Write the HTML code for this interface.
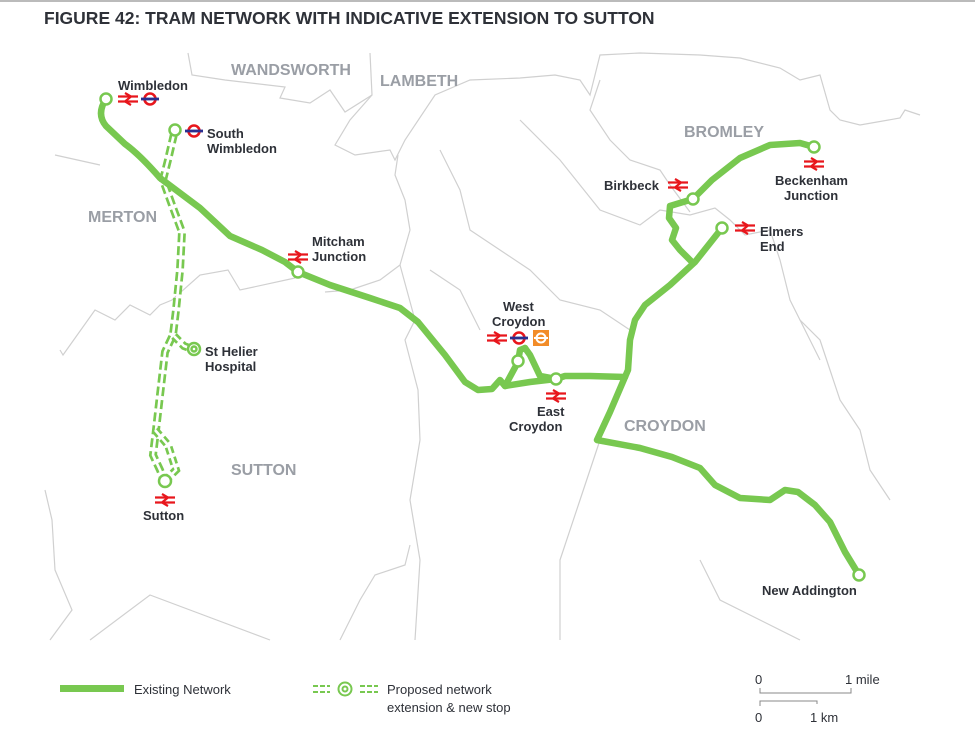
<!DOCTYPE html>
<html><head><meta charset="utf-8"><style>
html,body{margin:0;padding:0;background:#fff;}
svg{display:block;}
text{font-family:"Liberation Sans",sans-serif;}
.l{font-size:13px;font-weight:bold;fill:#2e3138;}
.b{font-size:16px;font-weight:bold;fill:#9a9ea5;}
.g{font-size:13px;fill:#2e3138;}
</style></head><body>
<svg width="975" height="734" viewBox="0 0 975 734" xmlns="http://www.w3.org/2000/svg">
<defs>
<g id="nr"><rect x="-10" y="-5" width="20" height="10" fill="none"/>
<path d="M-10,-2.5H10M-10,2.5H10M-3,-6L3,-2.5L-3,2.5L3,6" stroke="#e8161c" stroke-width="2.2" fill="none"/></g>
<g id="lu"><circle r="5.5" fill="none" stroke="#e8161c" stroke-width="2.6"/><rect x="-9" y="-1.4" width="18" height="2.8" fill="#2b2f8f"/></g>
<g id="lo"><rect x="-8" y="-8" width="16" height="16" fill="#f28c28"/><circle r="4.5" fill="none" stroke="#fff" stroke-width="2"/><rect x="-7" y="-1" width="14" height="2" fill="#fff"/></g>
</defs>
<line x1="0" y1="1" x2="975" y2="1" stroke="#bbb" stroke-width="2"/>
<text x="44" y="24" font-size="17.5" font-weight="bold" fill="#2e3138">FIGURE 42: TRAM NETWORK WITH INDICATIVE EXTENSION TO SUTTON</text>

<g fill="none" stroke="#d0d0d0" stroke-width="1.2">
<path d="M188,53 L192,75 L225,80 L285,87 L280,98 L310,103 L330,90 L345,112 L372,95 L370,53"/>
<path d="M372,95 L350,120 L335,145 L355,155 L390,150 L395,160 L405,140 L435,95 L470,80 L520,78 L555,75 L580,80 L590,95 L600,55 L640,53 L700,55 L740,58 L780,68 L800,80 L820,75 L830,110 L840,120 L860,125 L900,118 L905,110 L920,115"/>
<path d="M398,155 L395,175 L405,200 L410,230 L400,265 L380,280 L350,290 L325,292"/>
<path d="M55,155 L100,165 M60,350 L63,355 L95,310 L115,320 L130,305 L150,315 L160,305 L172,300 L200,275 L228,270 L240,290 L295,278"/>
<path d="M400,265 L415,320 L405,340 L418,390 L420,440 L410,500 L420,560 L415,640"/>
<path d="M45,490 L52,520 L55,570 L72,610 L50,640"/>
<path d="M90,640 L150,595 L270,640"/>
<path d="M340,640 L360,600 L375,575 L405,565 L410,545"/>
<path d="M520,120 L560,160 L600,210 L640,225 L660,210 L690,215 L715,208 L730,220 L745,235 L770,230 L780,260 L790,300 L800,320 L820,340 L830,370 L840,400 L860,430 L870,470 L890,500"/>
<path d="M600,80 L590,110 L610,140 L630,160 L660,170 L670,185 L690,212"/>
<path d="M440,150 L460,190 L470,230 L500,250 L530,270 L560,300 L600,310 L630,330"/>
<path d="M430,270 L460,290 L480,330"/>
<path d="M800,320 L820,360 M600,440 L580,500 L560,560 L560,640 M700,560 L720,600 L760,620 L800,640"/>
</g>

<text class="b" x="231" y="75">WANDSWORTH</text>
<text class="b" x="380" y="86">LAMBETH</text>
<text class="b" x="88" y="222">MERTON</text>
<text class="b" x="684" y="137">BROMLEY</text>
<text class="b" x="624" y="431">CROYDON</text>
<text class="b" x="231" y="475">SUTTON</text>

<g fill="none" stroke-linecap="butt">
<path d="M174,134 L168,160 L163,180 L172,205 L182,232 L180,270 L176,310 L173,335 L165,352 L160,395 L156,430 L153,455 L160,470 L164,480" stroke="#78c850" stroke-width="8" stroke-dasharray="9,4"/>
<path d="M174,134 L168,160 L163,180 L172,205 L182,232 L180,270 L176,310 L173,335 L165,352 L160,395 L156,430 L153,455 L160,470 L164,480" stroke="#fff" stroke-width="2.6"/>
<path d="M174,336 L184,346 L192,349 M155,430 L168,445 L176,470 L168,478" stroke="#78c850" stroke-width="8" stroke-dasharray="7,4"/>
<path d="M174,336 L184,346 L192,349 M155,430 L168,445 L176,470 L168,478" stroke="#fff" stroke-width="2.6"/>
</g>

<g fill="none" stroke="#78c850" stroke-width="6.5" stroke-linecap="round" stroke-linejoin="round">
<path d="M106,99 Q96,114 106,126 L125,144 Q140,155 160,178 L200,208 L230,236 L262,250 L285,262 L298,272 L330,285 L370,298 L400,308 L418,322 L445,355 L465,382 L478,390 L492,389 L500,380 L505,386 L518,362"/>
<path d="M505,386 L530,382 L556,379 L565,376 L590,376 L625,377"/>
<path d="M525,348 L530,355 L540,376 L556,379"/>
<path d="M518,362 L520,350 L525,348"/>
<path d="M722,228 L695,262 L670,285 L645,305 L635,320 L630,340 L628,370 L625,377 L610,412 L597,440 L640,448 L672,457 L700,468 L715,485 L740,498 L770,500 L785,490 L798,492 L815,505 L830,522 L845,552 L859,575"/>
<path d="M693,263 L680,250 L672,240 L676,228 L669,218 L670,206 L693,199 L712,180 L740,158 L770,145 L800,143 L814,147"/>
</g>
<g fill="#fff" stroke="#78c850" stroke-width="2.5">
<circle cx="106" cy="99" r="5.5"/><circle cx="175" cy="130" r="5.5"/>
<circle cx="298" cy="272" r="5.5"/><circle cx="518" cy="361" r="5.5"/>
<circle cx="556" cy="379" r="5.5"/><circle cx="693" cy="199" r="5.5"/>
<circle cx="722" cy="228" r="5.5"/><circle cx="814" cy="147" r="5.5"/>
<circle cx="859" cy="575" r="5.5"/><circle cx="165" cy="481" r="6"/>
<circle cx="194" cy="349" r="6"/><circle cx="194" cy="349" r="2.5"/>
</g>

<text class="l" x="118" y="90">Wimbledon</text>
<use href="#nr" x="128" y="99"/><use href="#lu" x="150" y="99"/>
<use href="#lu" x="194" y="131"/>
<text class="l" x="207" y="138">South</text><text class="l" x="207" y="153">Wimbledon</text>
<text class="l" x="312" y="246">Mitcham</text><text class="l" x="312" y="261">Junction</text>
<use href="#nr" x="298" y="257"/>
<text class="l" x="205" y="356">St Helier</text><text class="l" x="205" y="371">Hospital</text>
<use href="#nr" x="165" y="500"/>
<text class="l" x="143" y="520">Sutton</text>
<text class="l" x="503" y="311">West</text><text class="l" x="492" y="326">Croydon</text>
<use href="#nr" x="497" y="338"/><use href="#lu" x="519" y="338"/><use href="#lo" x="541" y="338"/>
<use href="#nr" x="556" y="396"/>
<text class="l" x="537" y="416">East</text><text class="l" x="509" y="431">Croydon</text>
<text class="l" x="604" y="190">Birkbeck</text><use href="#nr" x="678" y="185"/>
<use href="#nr" x="814" y="164"/>
<text class="l" x="775" y="185">Beckenham</text><text class="l" x="784" y="200">Junction</text>
<use href="#nr" x="745" y="228"/>
<text class="l" x="760" y="236">Elmers</text><text class="l" x="760" y="251">End</text>
<text class="l" x="762" y="595">New Addington</text>

<rect x="60" y="685" width="64" height="7" fill="#78c850"/>
<text class="g" x="134" y="694">Existing Network</text>
<g stroke="#78c850" stroke-width="2" fill="none">
<path d="M313,686 H330 M313,692 H330 M360,686 H378 M360,692 H378" stroke-dasharray="5,2"/>
<circle cx="345" cy="689" r="6.5"/><circle cx="345" cy="689" r="2.5"/>
</g>
<text class="g" x="387" y="694">Proposed network</text>
<text class="g" x="387" y="712">extension &amp; new stop</text>
<text class="g" x="755" y="684">0</text><text class="g" x="845" y="684">1 mile</text>
<path d="M760,688 V693 H851 V688" stroke="#888" stroke-width="1" fill="none"/>
<path d="M760,706 V701 H817 V704" stroke="#888" stroke-width="1" fill="none"/>
<text class="g" x="755" y="722">0</text><text class="g" x="810" y="722">1 km</text>
</svg>
</body></html>
